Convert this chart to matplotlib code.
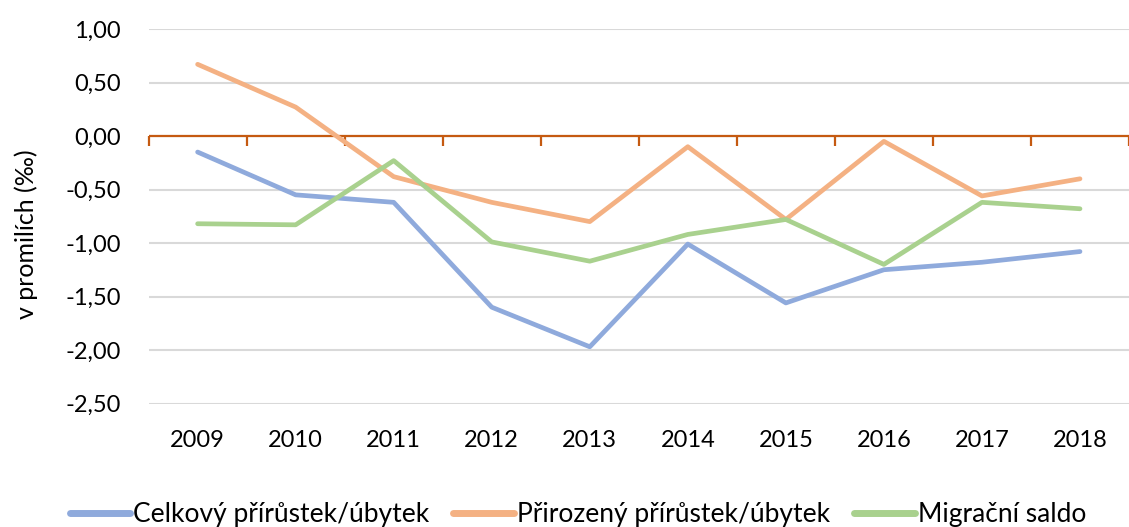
import matplotlib
matplotlib.use("Agg")
import matplotlib.pyplot as plt
from matplotlib.ticker import FuncFormatter

years = ["2009", "2010", "2011", "2012", "2013", "2014", "2015", "2016", "2017", "2018"]
celkovy = [-0.15, -0.55, -0.62, -1.60, -1.97, -1.01, -1.56, -1.25, -1.18, -1.08]
prirozeny = [0.67, 0.27, -0.38, -0.62, -0.80, -0.10, -0.78, -0.05, -0.56, -0.40]
migracni = [-0.82, -0.83, -0.23, -0.99, -1.17, -0.92, -0.78, -1.20, -0.62, -0.68]
series_names = ["Celkový přírůstek/úbytek", "Přirozený přírůstek/úbytek", "Migrační saldo"]
y_ticks = [1.0, 0.5, 0.0, -0.5, -1.0, -1.5, -2.0, -2.5]
y_label = "v promilích (‰)"

colors = ["#8FAADC", "#F4B183", "#A9D18E"]
axis_color = "#C55A11"

plt.rcParams["font.family"] = ["Lato", "DejaVu Sans"]
fig = plt.figure(figsize=(11.29, 5.27), dpi=100)
ax = fig.add_axes([148.6 / 1129, 1 - 403.5 / 527, 1 - 148.6 / 1129, (403.5 - 29) / 527])

x = list(range(len(years)))
for vals, c, name in zip([celkovy, prirozeny, migracni], colors, series_names):
    ax.plot(x, vals, color=c, lw=3.4, solid_capstyle="round", solid_joinstyle="round",
            label=name, zorder=3)

ax.set_xlim(-0.5, len(years) - 0.5)
ax.set_ylim(-2.5, 1.0)
ax.set_yticks(y_ticks)
ax.yaxis.set_major_formatter(FuncFormatter(lambda v, p: f"{v:.2f}".replace(".", ",")))
ax.grid(axis="y", color="#D9D9D9", lw=1.5, zorder=0)
ax.set_axisbelow(True)
for s in ax.spines.values():
    s.set_visible(False)
ax.tick_params(axis="y", length=0, pad=20, labelsize=17, labelcolor="#000000")
ax.set_xticks(x)
ax.set_xticklabels(years)
ax.tick_params(axis="x", length=0, pad=19, labelsize=17, labelcolor="#000000")
ax.set_ylabel(y_label, fontsize=18)
ax.yaxis.set_label_coords(-0.113, 0.453)

# category axis line at zero with boundary ticks (pointing down)
ax.axhline(0, color=axis_color, lw=1.6, zorder=2)
boundaries = [i - 0.5 for i in range(len(years) + 1)]
ax.plot(boundaries, [0] * len(boundaries), ls="none", marker=3, markersize=7,
        markeredgewidth=1.6, color=axis_color, zorder=2, clip_on=False)

leg = fig.legend(loc="lower center", bbox_to_anchor=(0.512, -0.045), ncol=3, frameon=False,
                 fontsize=19, handlelength=2.3, handletextpad=0.12, columnspacing=0.9)
for h in leg.get_lines():
    h.set_linewidth(5)

fig.savefig("out.png", dpi=100)
